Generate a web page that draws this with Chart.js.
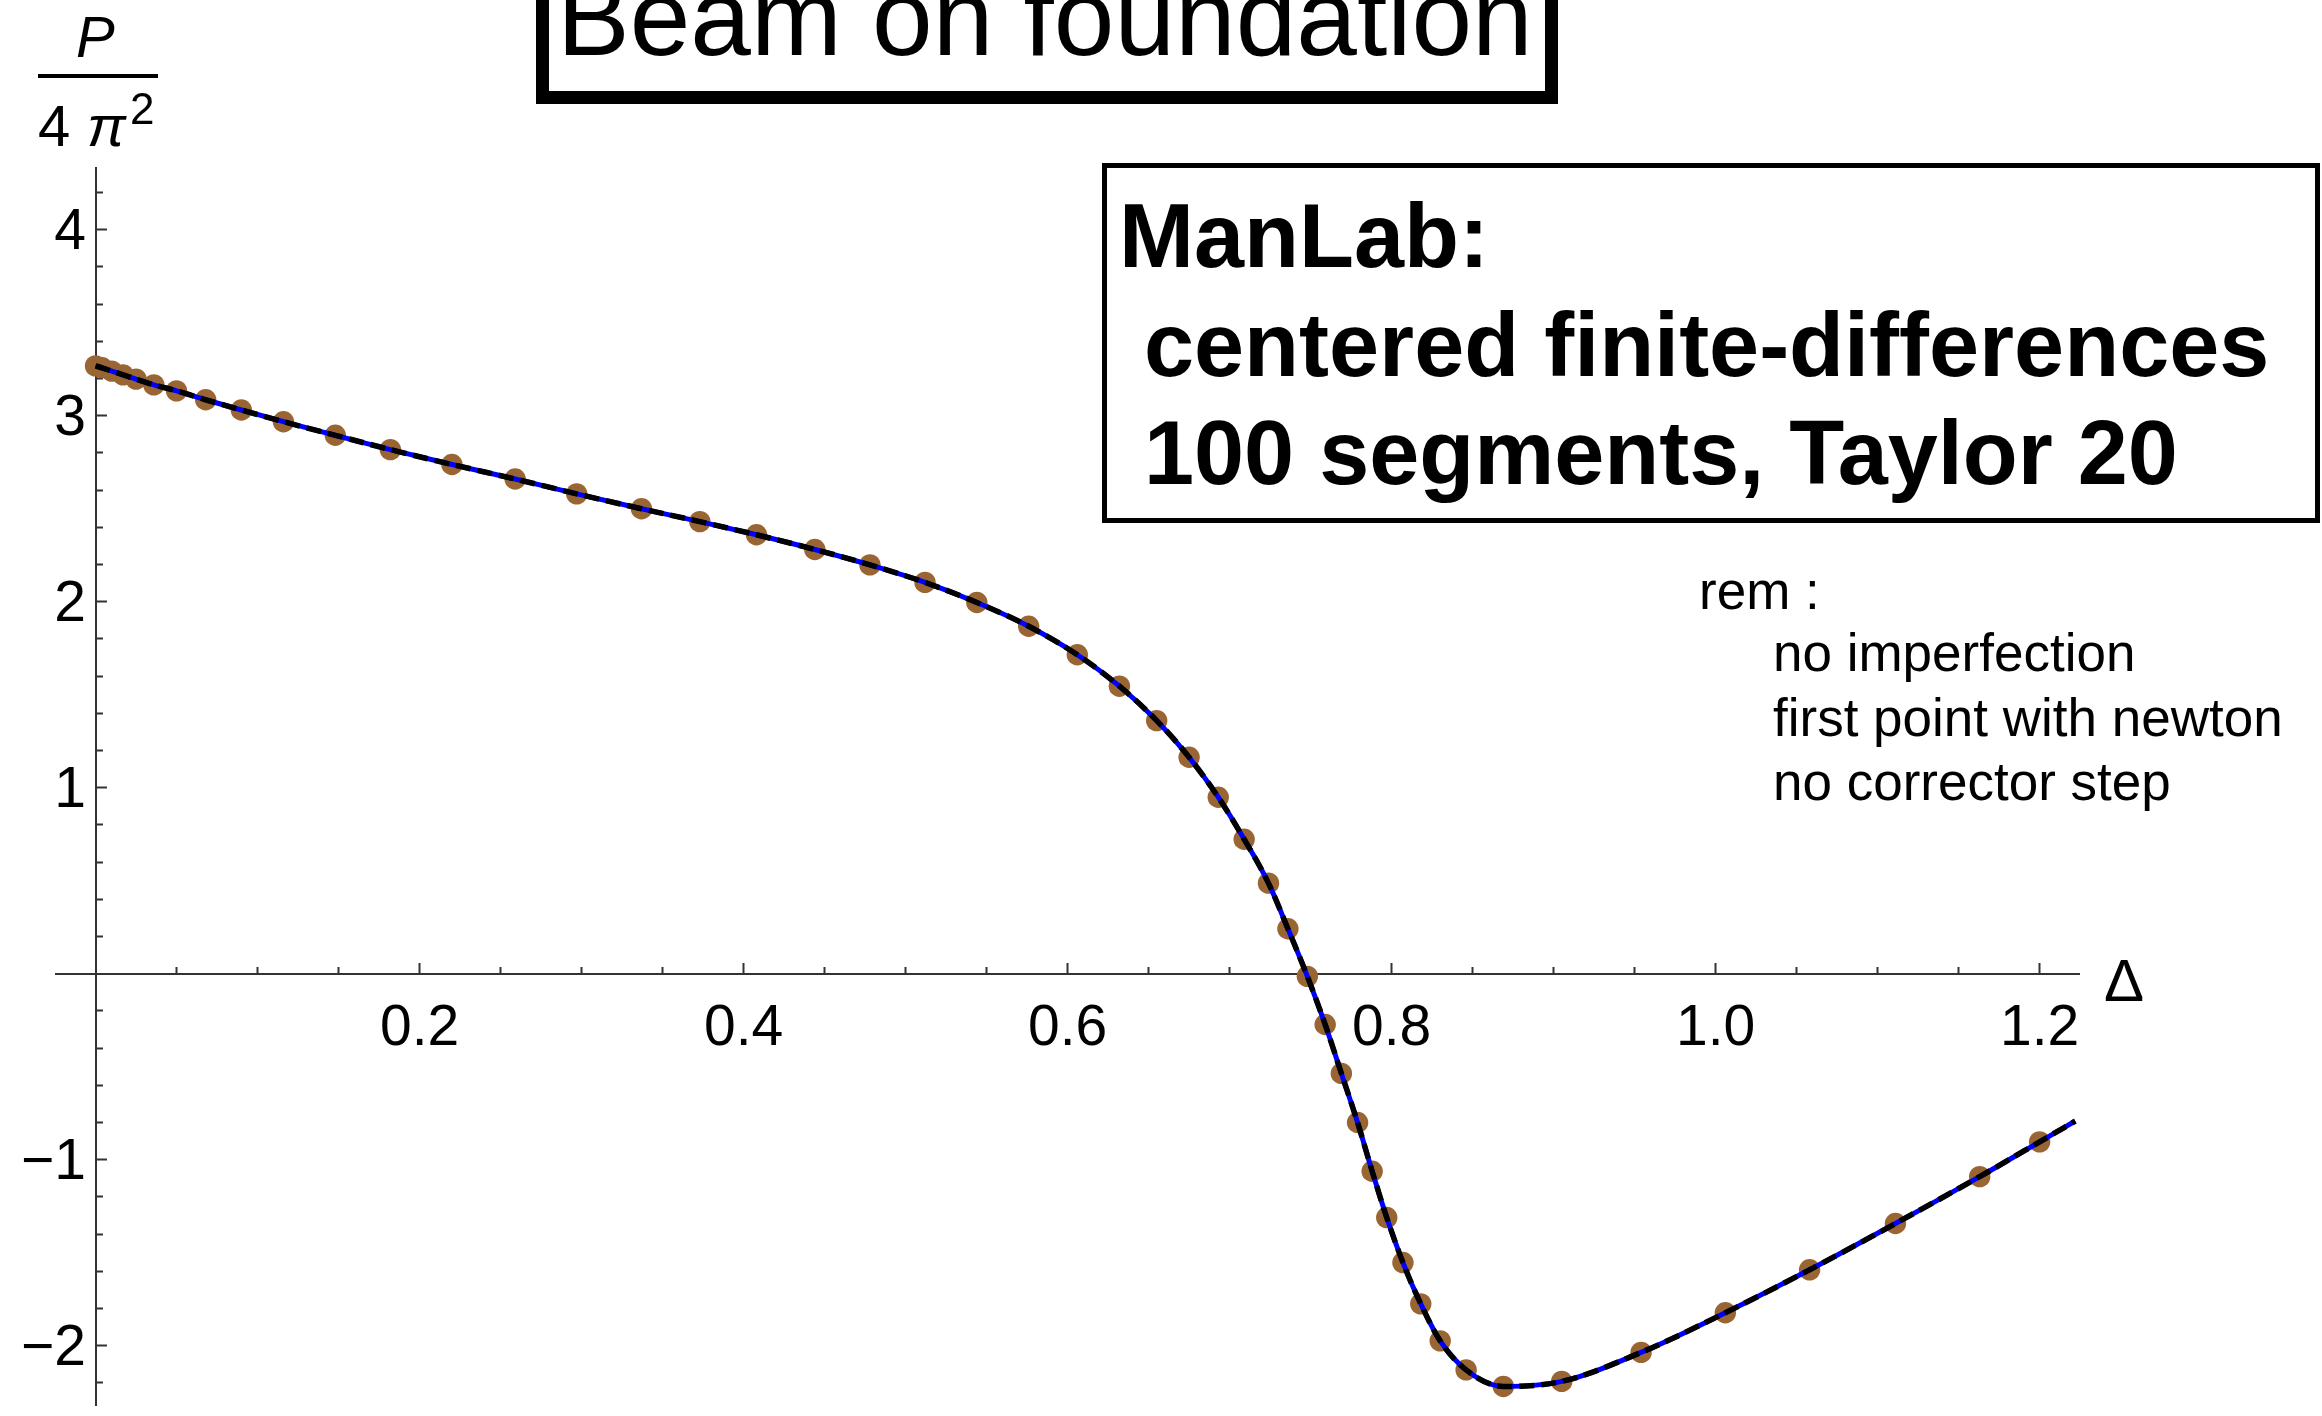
<!DOCTYPE html>
<html>
<head>
<meta charset="utf-8">
<title>Beam on foundation</title>
<script src="https://cdn.jsdelivr.net/npm/chart.js"></script>
<style>
  html, body { margin: 0; padding: 0; background: #fff; overflow: hidden; }
  #chart { display: block; }
</style>
</head>
<body>
<canvas id="chart" width="2322" height="1416"></canvas>
<script>
// continuation markers: end shortening Delta and load P / (4 pi^2)
const delta = [0.000, 0.004, 0.010, 0.017, 0.025, 0.036, 0.050, 0.068, 0.090, 0.116,
  0.148, 0.182, 0.220, 0.259, 0.297, 0.337, 0.373, 0.408, 0.444, 0.478,
  0.512, 0.544, 0.576, 0.606, 0.632, 0.655, 0.675, 0.693, 0.709, 0.724,
  0.736, 0.748, 0.759, 0.769, 0.779, 0.788, 0.797, 0.807, 0.818, 0.830,
  0.846, 0.869, 0.905, 0.954, 1.006, 1.058, 1.111, 1.163, 1.200]
const load = [3.268, 3.258, 3.240, 3.220, 3.197, 3.166, 3.134, 3.086, 3.031, 2.968,
  2.895, 2.818, 2.738, 2.660, 2.580, 2.500, 2.431, 2.360, 2.281, 2.198,
  2.104, 1.996, 1.868, 1.715, 1.546, 1.361, 1.164, 0.949, 0.723, 0.487,
  0.242, -0.014, -0.273, -0.536, -0.800, -1.062, -1.311, -1.553, -1.775, -1.974,
  -2.130, -2.219, -2.192, -2.036, -1.823, -1.592, -1.343, -1.091, -0.904]

// the branch runs a bit further than the last marker
const tailDelta = [1.222]
const tailLoad = [-0.792]

const xTicks = [0.2, 0.4, 0.6, 0.8, 1.0, 1.2]
const yTicks = [-2, -1, 1, 2, 3, 4]
const xRange = [-0.0244, 1.2243]
const yRange = [-2.3204, 4.3321]

const methodLines = ['ManLab:', ' centered finite-differences', ' 100 segments, Taylor 20']
const remarks = ['no imperfection', 'first point with newton', 'no corrector step']

const points = delta.map((d, i) => ({x: d, y: load[i]}))
const curve = points.concat(tailDelta.map((d, i) => ({x: d, y: tailLoad[i]})))

// small ticks between the labelled ones
const xMinor = []
for (let k = 1; k <= 24; k++) if (k % 4 !== 0) xMinor.push(+(k * 0.05).toFixed(2))
const yMinor = []
for (let k = -11; k <= 21; k++) if (k % 5 !== 0) yMinor.push(+(k * 0.2).toFixed(1))

const FONT = '"Liberation Sans", Arial, Helvetica, sans-serif'
const axisColor = '#333'
const tickFont = {family: FONT, size: 57}

const setTicks = values => axis => { axis.ticks = values.map(v => ({value: v})) }
const noPadding = axis => {
  axis.paddingLeft = 0
  axis.paddingRight = 0
  axis.paddingTop = 0
  axis.paddingBottom = 0
}

// role: 'major' (axis line + long ticks), 'minor' (short ticks), 'labels' (text only)
function axisOptions(dir, range, values, role, at) {
  const opts = {
    type: 'linear',
    axis: dir,
    position: dir === 'x' ? {y: at} : {x: at},
    min: range[0],
    max: range[1],
    border: {display: role === 'major', color: axisColor, width: 2},
    grid: {
      drawOnChartArea: false,
      drawTicks: role !== 'labels',
      tickLength: role === 'major' ? -12 : -7,
      tickWidth: 2,
      tickColor: axisColor
    },
    ticks: {display: false, font: tickFont, color: '#000', autoSkip: false, maxRotation: 0, minRotation: 0,
      callback: () => ''},
    afterBuildTicks: setTicks(values),
    afterFit: noPadding
  }
  if (dir === 'x' && role === 'major') {
    opts.ticks.display = true
    opts.ticks.padding = 33
    opts.ticks.callback = v => v.toFixed(1)
  }
  if (dir === 'y' && role === 'labels') {
    opts.ticks.display = true
    opts.ticks.labelOffset = 4
    opts.ticks.callback = v => (v < 0 ? '\u2212' + Math.abs(v) : String(v))
  }
  return opts
}

const notes = {
  id: 'notes',
  afterDraw(chart) {
    const ctx = chart.ctx
    ctx.save()
    ctx.fillStyle = '#000'
    ctx.strokeStyle = '#000'
    ctx.textAlign = 'left'
    ctx.textBaseline = 'alphabetic'

    // title frame, runs off the top edge
    ctx.lineWidth = 13
    ctx.strokeRect(542.5, -60, 1009, 157.5)
    ctx.font = '109px ' + FONT
    ctx.fillText('Beam on foundation', 557, 55)

    // method box
    ctx.lineWidth = 5
    ctx.strokeRect(1104.5, 165.5, 1213, 355)
    ctx.font = 'bold 90px ' + FONT
    methodLines.forEach((t, i) => ctx.fillText(t, 1119, 267 + i * 108.5))

    // remarks
    ctx.font = '53px ' + FONT
    ctx.fillText('rem :', 1699, 609)
    remarks.forEach((t, i) => ctx.fillText(t, 1773, 671 + i * 64.5))

    // vertical axis label P / (4 pi^2)
    ctx.font = 'italic 58px ' + FONT
    ctx.fillText('P', 76, 57)
    ctx.fillRect(38, 74, 120, 4)
    ctx.font = '58px ' + FONT
    ctx.fillText('4', 38, 146)
    ctx.font = 'italic 58px ' + FONT
    ctx.fillText('\u03c0', 87, 146)
    ctx.font = '44px ' + FONT
    ctx.fillText('2', 130, 124)

    // horizontal axis label
    ctx.font = '60px ' + FONT
    ctx.fillText('\u0394', 2104, 1001)
    ctx.restore()
  }
}

new Chart(document.getElementById('chart'), {
  type: 'line',
  data: {
    datasets: [{
      label: 'steps',
      data: points,
      xAxisID: 'x',
      yAxisID: 'y',
      showLine: false,
      pointRadius: 10.7,
      pointHoverRadius: 10.7,
      pointBackgroundColor: '#996633',
      pointBorderWidth: 0,
      order: 3
    }, {
      label: 'branch',
      data: curve,
      xAxisID: 'x',
      yAxisID: 'y',
      borderColor: '#0000ff',
      borderWidth: 5,
      pointRadius: 0,
      cubicInterpolationMode: 'monotone',
      order: 2
    }, {
      label: 'branch (dashed)',
      data: curve,
      xAxisID: 'x',
      yAxisID: 'y',
      borderColor: '#000000',
      borderWidth: 5.5,
      borderDash: [15, 7],
      pointRadius: 0,
      cubicInterpolationMode: 'monotone',
      order: 1
    }]
  },
  options: {
    responsive: false,
    animation: false,
    events: [],
    layout: {padding: {left: 56, right: 243, top: 168, bottom: 0}},
    plugins: {legend: {display: false}, tooltip: {enabled: false}},
    scales: {
      x: axisOptions('x', xRange, xTicks, 'major', 0),
      y: axisOptions('y', yRange, yTicks, 'major', 0),
      xMinor: axisOptions('x', xRange, xMinor, 'minor', 0),
      yMinor: axisOptions('y', yRange, yMinor, 'minor', 0),
      yLabels: axisOptions('y', yRange, yTicks, 'labels', -0.0059)
    }
  },
  plugins: [notes]
})
</script>
</body>
</html>
